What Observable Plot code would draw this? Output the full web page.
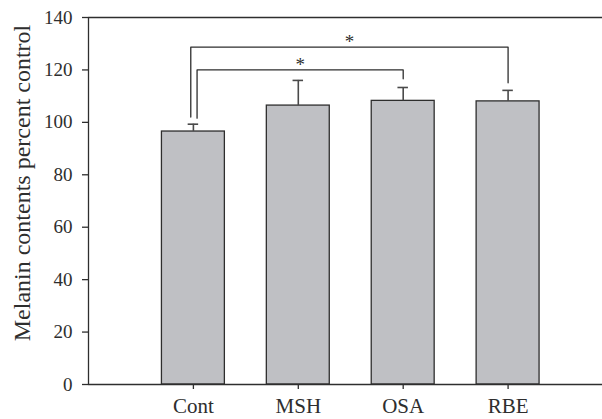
<!DOCTYPE html>
<html>
<head>
<meta charset="utf-8">
<script src="https://cdn.jsdelivr.net/npm/d3@7"></script>
<script src="https://cdn.jsdelivr.net/npm/@observablehq/plot@0.6"></script>
<style>
  html, body { margin: 0; padding: 0; background: #fff; }
  #chart svg { display: block; }
</style>
</head>
<body>
<div id="chart"></div>
<script>
// ---- data ----
const categories = ["Cont", "MSH", "OSA", "RBE"];
const means = [96.5, 106.4, 108.2, 108.0];
const errors = [2.8, 9.6, 5.1, 4.2];
const yTicks = [0, 20, 40, 60, 80, 100, 120, 140];
const yTitle = "Melanin contents percent control";

const bracketFrom = ["Cont", "Cont"];
const bracketTo = ["OSA", "RBE"];
const bracketLevel = [120, 128.7];
const bracketFromEnd = [101.6, 102.0];
const bracketToEnd = [116.6, 115.1];
const bracketLabel = ["*", "*"];

// ---- style constants ----
const xDomain = [-1, 3.9];
const barHalf = 0.3;
const capHalf = 0.05;
const legNudge = [0.035, -0.025];
const ink = "#2e2e2e";
const font = "'Liberation Serif', 'Times New Roman', serif";

// ---- derived tables ----
const bars = categories.map((c, i) => ({ i, cat: c, mean: means[i], top: means[i] + errors[i] }));
const idx = c => categories.indexOf(c);
const brackets = bracketFrom.map((f, k) => ({
  k,
  a: idx(f) + legNudge[k],
  b: idx(bracketTo[k]),
  level: bracketLevel[k],
  aEnd: bracketFromEnd[k],
  bEnd: bracketToEnd[k],
  label: bracketLabel[k]
}));
const bracketPts = brackets.flatMap(d => [
  { k: d.k, x: d.a, y: d.aEnd },
  { k: d.k, x: d.a, y: d.level },
  { k: d.k, x: d.b, y: d.level },
  { k: d.k, x: d.b, y: d.bEnd }
]);

const chart = Plot.plot({
  width: 602,
  height: 419,
  marginLeft: 88,
  marginRight: 0,
  marginTop: 17,
  marginBottom: 35,
  style: { fontFamily: font, fontSize: "19px", color: ink, background: "#fff" },
  x: { domain: xDomain, axis: null },
  y: { domain: [0, 140], axis: null },
  marks: [
    Plot.rectY(bars, {
      x1: d => d.i - barHalf, x2: d => d.i + barHalf, y1: 0, y2: "mean",
      fill: "#bfc0c4", stroke: ink, strokeWidth: 1.3
    }),
    Plot.ruleX(bars, { x: "i", y1: "mean", y2: "top", stroke: "#4a4a4a", strokeWidth: 1.6 }),
    Plot.ruleY(bars, { x1: d => d.i - capHalf, x2: d => d.i + capHalf, y: "top", stroke: "#4a4a4a", strokeWidth: 1.6 }),
    Plot.line(bracketPts, { x: "x", y: "y", z: "k", stroke: ink, strokeWidth: 1.3, curve: "linear" }),
    Plot.text(brackets, {
      x: d => (d.a + d.b) / 2, y: "level", text: "label",
      dy: -5, lineAnchor: "middle", fontSize: 19, fill: ink
    }),
    Plot.ruleY([0, 140], { stroke: ink, strokeWidth: 1.3 }),
    Plot.ruleX([xDomain[0]], { stroke: ink, strokeWidth: 1.3 }),
    Plot.axisY({
      ticks: yTicks, tickSize: 6, tickPadding: 10, label: null,
      fontSize: 19, stroke: ink, fill: ink, strokeWidth: 1.3
    }),
    Plot.axisX({
      ticks: categories.map((c, i) => i), tickFormat: i => categories[i],
      tickSize: 5, tickPadding: 9, label: null,
      fontSize: 21, stroke: ink, fill: ink, strokeWidth: 1.3
    }),
    Plot.text([yTitle], {
      frameAnchor: "left", rotate: -90, textAnchor: "middle", lineAnchor: "middle",
      dx: -66, dy: -18, fontSize: 24, fill: ink
    })
  ]
});
document.getElementById("chart").appendChild(chart);
</script>
</body>
</html>
